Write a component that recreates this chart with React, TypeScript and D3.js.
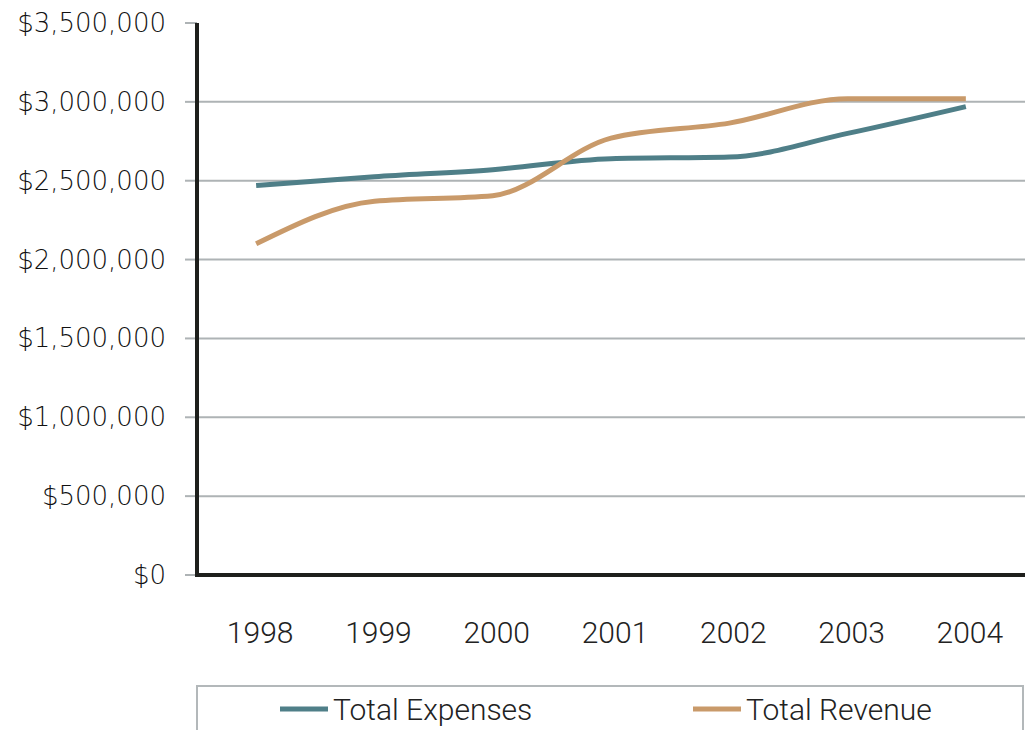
import React, { useEffect, useRef } from 'react';
import * as d3 from 'd3';

const years = ['1998', '1999', '2000', '2001', '2002', '2003', '2004'];
const totalExpenses = [2470000, 2525000, 2570000, 2640000, 2650000, 2800000, 2970000];
const totalRevenue = [2100000, 2370000, 2405000, 2770000, 2865000, 3020000, 3020000];
const yTicks = [0, 500000, 1000000, 1500000, 2000000, 2500000, 3000000, 3500000];

const series = [
  { name: 'Total Expenses', values: totalExpenses, color: '#4f7f88' },
  { name: 'Total Revenue', values: totalRevenue, color: '#c99a6a' },
];

const App = () => {
  const svgRef = useRef<SVGSVGElement | null>(null);

  useEffect(() => {
    if (!svgRef.current) return;
    const svg = d3.select(svgRef.current);
    svg.selectAll('*').remove();

    const width = 1025;
    const height = 730;
    const left = 197;
    const right = 1025;
    const top = 23;
    const bottom = 575;

    const x = d3.scalePoint<string>().domain(years).range([left, right]).padding(0.5);
    const y = d3.scaleLinear().domain([0, 3500000]).range([bottom, top]);

    svg.attr('width', width).attr('height', height);

    // gridlines
    svg.append('g')
      .selectAll('line')
      .data(yTicks.filter(t => t > 0 && t < 3500000))
      .enter()
      .append('line')
      .attr('x1', left)
      .attr('x2', right)
      .attr('y1', d => y(d))
      .attr('y2', d => y(d))
      .attr('stroke', '#aeb3b5')
      .attr('stroke-width', 2);

    // tick marks
    svg.append('g')
      .selectAll('line')
      .data(yTicks)
      .enter()
      .append('line')
      .attr('x1', left - 12)
      .attr('x2', left)
      .attr('y1', d => y(d))
      .attr('y2', d => y(d))
      .attr('stroke', '#aeb3b5')
      .attr('stroke-width', 2);

    // y labels
    const fmt = d3.format('$,');
    svg.append('g')
      .selectAll('text')
      .data(yTicks)
      .enter()
      .append('text')
      .attr('x', 166)
      .attr('y', d => y(d) + 9)
      .attr('text-anchor', 'end')
      .attr('font-family', '"DejaVu Sans", sans-serif')
      .attr('font-weight', 300)
      .attr('font-size', 26)
      .attr('fill', '#111')
      .text(d => fmt(d));

    // axes
    svg.append('path')
      .attr('d', `M${left},${top} V${bottom} H${right}`)
      .attr('fill', 'none')
      .attr('stroke', '#1e1f1c')
      .attr('stroke-width', 4);

    // x labels
    svg.append('g')
      .selectAll('text')
      .data(years)
      .enter()
      .append('text')
      .attr('x', d => (x(d) as number) + 4)
      .attr('y', 643)
      .attr('text-anchor', 'middle')
      .attr('font-family', 'Roboto, sans-serif')
      .attr('font-weight', 300)
      .attr('font-size', 30)
      .attr('fill', '#222')
      .text(d => d);

    // lines
    const line = d3.line<number>()
      .x((_, i) => x(years[i]) as number)
      .y(d => y(d))
      .curve(d3.curveMonotoneX);

    svg.append('g')
      .selectAll('path')
      .data(series)
      .enter()
      .append('path')
      .attr('d', d => line(d.values))
      .attr('fill', 'none')
      .attr('stroke', d => d.color)
      .attr('stroke-width', 5);

    // legend
    svg.append('rect')
      .attr('x', 197)
      .attr('y', 686)
      .attr('width', 826)
      .attr('height', 60)
      .attr('fill', 'none')
      .attr('stroke', '#b3b8ba')
      .attr('stroke-width', 2);

    const legendX = [280, 693];
    const items = svg.append('g')
      .selectAll('g')
      .data(series)
      .enter()
      .append('g')
      .attr('transform', (_, i) => `translate(${legendX[i]}, 709)`);
    items.append('line')
      .attr('x1', 0)
      .attr('x2', 48)
      .attr('stroke', d => d.color)
      .attr('stroke-width', 5);
    items.append('text')
      .attr('x', 53)
      .attr('y', 11)
      .attr('font-family', 'Roboto, sans-serif')
      .attr('font-weight', 300)
      .attr('font-size', 30)
      .attr('fill', '#222')
      .text(d => d.name);
  }, []);

  return (
    <svg ref={svgRef} style={{ position: 'absolute', top: 0, left: 0, background: '#fff' }}></svg>
  );
};

export default App;
